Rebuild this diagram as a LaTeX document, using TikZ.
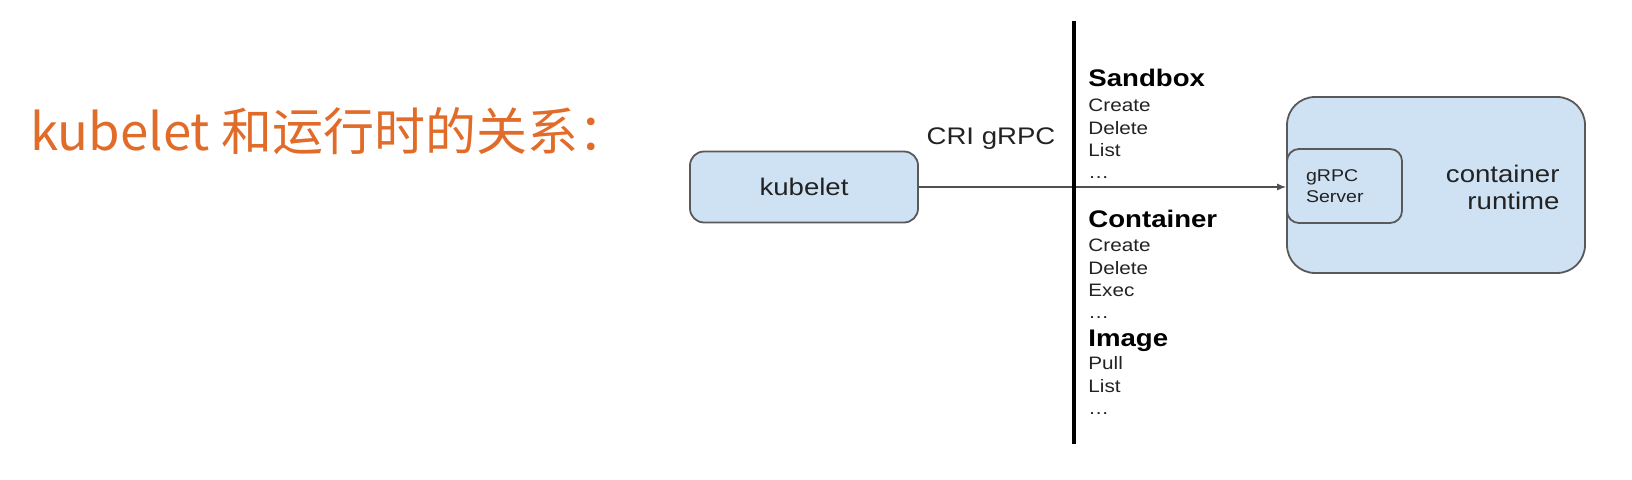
\documentclass[tikz,border=0pt]{standalone}
\usepackage{fontspec}
\usepackage{graphicx}
\setmainfont{Liberation Sans}
\newfontfamily\titlefont{Noto Sans CJK SC}
\usetikzlibrary{arrows.meta}
\definecolor{titleorange}{RGB}{225,108,42}
\definecolor{boxblue}{RGB}{207,226,243}
\definecolor{boxline}{RGB}{89,89,89}
\definecolor{linegray}{RGB}{80,80,80}
\definecolor{labelgray}{RGB}{34,34,34}
% the diagram part of the slide is stretched sideways
\newcommand{\wtext}[1]{\scalebox{1.15}[1]{#1}}
\tikzset{
  titletext/.style = {anchor=base west, inner sep=0pt, text=titleorange, font=\titlefont\fontsize{25.5}{30}\selectfont},
  rbox/.style = {draw=boxline, fill=boxblue, line width=0.9pt, font=\fontsize{12}{13}\selectfont, text=labelgray},
  labeltext/.style = {inner sep=0pt, font=\fontsize{12}{13.5}\selectfont, text=labelgray},
  grouphead/.style = {anchor=base west, inner sep=0pt, font=\bfseries\fontsize{12}{13}\selectfont},
  optext/.style = {anchor=base west, inner sep=0pt, font=\fontsize{9}{11}\selectfont, text=labelgray},
  conn/.style = {draw=linegray, line width=0.6pt, -{Latex[length=4.5pt, width=3.5pt]}},
  divider/.style = {line width=2pt, black},
}

\begin{document}
\begin{tikzpicture}[x=0.5pt, y=-0.5pt]
\useasboundingbox (0,0) rectangle (1632,480);

\node[titletext] (title) at (30,151) {kubelet 和运行时的关系：};

% boxes
\node[rbox, minimum width=114pt, minimum height=35.5pt, rounded corners=7pt] (kubelet) at (804,187) {\wtext{kubelet}};
\node[rbox, minimum width=149pt, minimum height=88pt, rounded corners=14pt] (runtime) at (1436,185) {};
\node[rbox, minimum width=57.5pt, minimum height=37pt, rounded corners=6pt,
      text width=38.5pt, inner xsep=9.5pt, align=left, font=\fontsize{8.5}{10.25}\selectfont] (grpc) at (1344.5,186) {\wtext{gRPC}\\\wtext{Server}};
\node[labeltext, align=right, anchor=east] (rtlabel) at ([xshift=-13pt,yshift=-1pt]runtime.east) {\wtext{container}\\\wtext{runtime}};

\node[labeltext, anchor=base] (cri) at (991,145) {\wtext{CRI gRPC}};
\draw[conn] (kubelet.east) -- (kubelet.east -| grpc.west);

\coordinate (bartop) at (1074,21);
\coordinate (barbot) at (1074,444);
\draw[divider] (bartop) -- (barbot);

% CRI services
\node[grouphead] (sandbox) at (1088,87) {\wtext{Sandbox}};
\foreach \op [count=\i] in {Create,Delete,List,…}
  \node[optext] (sandbox-\i) at (1088,{89.7+22.3*\i}) {\wtext{\op}};
\node[grouphead] (container) at (1088,228) {\wtext{Container}};
\foreach \op [count=\i] in {Create,Delete,Exec,…}
  \node[optext] (container-\i) at (1088,{229.7+22.3*\i}) {\wtext{\op}};
\node[grouphead] (image) at (1088,347) {\wtext{Image}};
\foreach \op [count=\i] in {Pull,List,…}
  \node[optext] (image-\i) at (1088,{347.7+22.3*\i}) {\wtext{\op}};
\end{tikzpicture}
\end{document}
